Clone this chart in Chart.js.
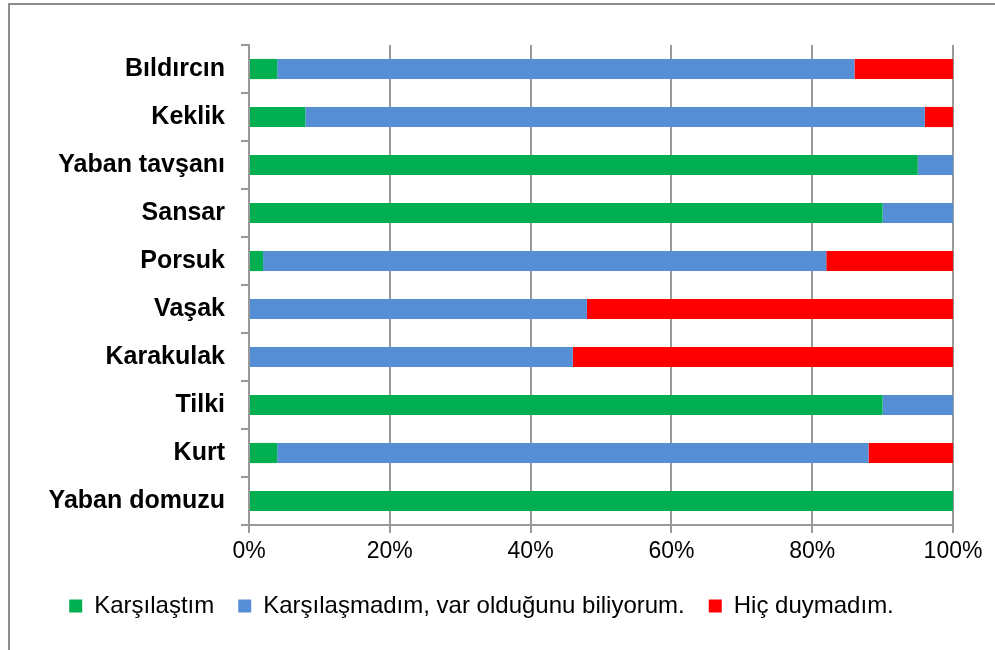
<!DOCTYPE html>
<html>
<head>
<meta charset="utf-8">
<script src="https://cdn.jsdelivr.net/npm/chart.js@4"></script>
<style>
  body { margin: 0; background: #fff; overflow: hidden; }
  .frame {
    position: absolute; left: 8px; top: 3px;
    width: 1100px; height: 800px;
    border-left: 2px solid #8c8c8c; border-top: 2px solid #8c8c8c;
  }
  #chart { position: absolute; left: 0; top: 0; }
</style>
</head>
<body>
<div class="frame"></div>
<canvas id="chart" width="995" height="650"></canvas>
<script>
const animals = ["Bıldırcın", "Keklik", "Yaban tavşanı", "Sansar", "Porsuk",
                 "Vaşak", "Karakulak", "Tilki", "Kurt", "Yaban domuzu"]
// percentages per answer
const met = [4, 8, 95, 90, 2, 0, 0, 90, 4, 100]
const knowOf = [82, 88, 5, 10, 80, 48, 46, 10, 84, 0]
const neverHeard = [14, 4, 0, 0, 18, 52, 54, 0, 12, 0]
const seriesNames = ["Karşılaştım", "Karşılaşmadım, var olduğunu biliyorum.", "Hiç duymadım."]
const xTicks = [0, 20, 40, 60, 80, 100]

const font = "'Liberation Sans', Arial, sans-serif"
const gridColor = "#999999"

const ctx = document.getElementById("chart").getContext("2d")

new Chart(ctx, {
  type: "bar",
  data: {
    labels: animals,
    datasets: [
      { label: seriesNames[0], data: met, backgroundColor: "#00B050" },
      { label: seriesNames[1], data: knowOf, backgroundColor: "#558ED5" },
      { label: seriesNames[2], data: neverHeard, backgroundColor: "#FF0000" }
    ]
  },
  options: {
    responsive: false,
    animation: false,
    indexAxis: "y",
    datasets: { bar: { categoryPercentage: 1, barPercentage: 0.42 } },
    layout: { padding: { top: 45, right: 42, left: 10, bottom: 22 } },
    scales: {
      x: {
        stacked: true,
        min: 0,
        max: 100,
        afterBuildTicks: (scale) => { scale.ticks = xTicks.map(v => ({ value: v })) },
        ticks: {
          callback: (v) => v + "%",
          color: "#000",
          font: { family: font, size: 23, lineHeight: 1 },
          padding: 7
        },
        grid: { color: gridColor, lineWidth: 2, tickLength: 8 },
        border: { color: gridColor, width: 2 }
      },
      y: {
        stacked: true,
        afterFit: (scale) => { scale.width = 239 },
        ticks: {
          color: "#000",
          font: { family: font, size: 25, weight: "bold" },
          padding: 16
        },
        grid: { drawOnChartArea: false, color: gridColor, lineWidth: 2, tickLength: 8, offset: true },
        border: { color: gridColor, width: 2 }
      }
    },
    plugins: {
      tooltip: { enabled: false },
      legend: {
        position: "bottom",
        labels: {
          color: "#000",
          font: { family: font, size: 24 },
          boxWidth: 13,
          boxHeight: 13,
          padding: 24
        }
      }
    }
  }
})
</script>
</body>
</html>
